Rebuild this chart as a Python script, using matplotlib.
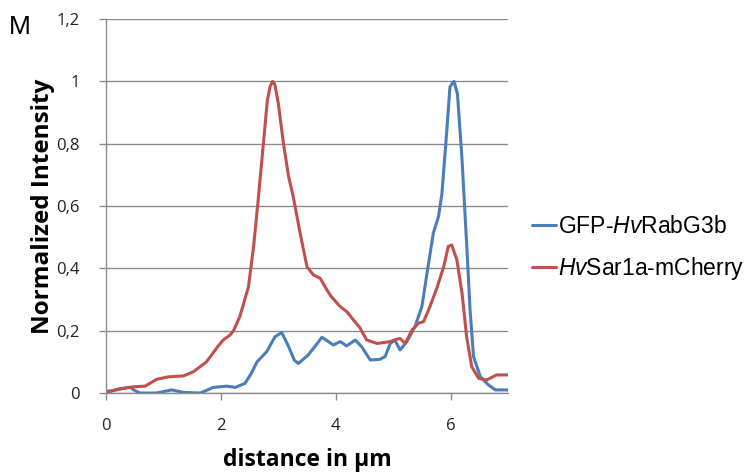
import matplotlib.pyplot as plt
import numpy as np

# distances (um) and normalized intensity
red_x = [0.0, 0.19, 0.48, 0.68, 0.88, 1.09, 1.35, 1.52, 1.75, 1.95, 2.04, 2.16, 2.22, 2.33,
         2.48, 2.57, 2.65, 2.74, 2.81, 2.86, 2.90, 2.94, 3.00, 3.09, 3.18, 3.26, 3.38, 3.50,
         3.61, 3.73, 3.85, 3.92, 4.08, 4.20, 4.31, 4.42, 4.54, 4.72, 4.95, 5.05, 5.12, 5.21,
         5.33, 5.44, 5.53, 5.64, 5.76, 5.88, 5.96, 6.02, 6.11, 6.20, 6.28, 6.37, 6.49, 6.63,
         6.80, 7.0]
red_y = [0.0, 0.012, 0.02, 0.022, 0.044, 0.052, 0.055, 0.068, 0.10, 0.15, 0.17, 0.186, 0.20, 0.245,
         0.34, 0.47, 0.62, 0.80, 0.94, 0.985, 1.0, 0.99, 0.93, 0.80, 0.694, 0.63, 0.513, 0.405,
         0.379, 0.368, 0.33, 0.31, 0.277, 0.26, 0.234, 0.21, 0.17, 0.159, 0.165, 0.172, 0.175, 0.159,
         0.202, 0.224, 0.229, 0.277, 0.336, 0.405, 0.47, 0.475, 0.427, 0.32, 0.18, 0.084, 0.047, 0.042,
         0.058, 0.058]

blue_x = [0.0, 0.19, 0.30, 0.42, 0.50, 0.59, 0.88, 1.14, 1.35, 1.64, 1.87, 2.10, 2.25, 2.42,
          2.52, 2.63, 2.80, 2.94, 3.06, 3.18, 3.28, 3.35, 3.52, 3.64, 3.76, 3.96, 4.08, 4.19,
          4.34, 4.45, 4.60, 4.77, 4.86, 4.95, 5.03, 5.12, 5.24, 5.38, 5.50, 5.59, 5.70, 5.79,
          5.85, 5.94, 5.99, 6.06, 6.12, 6.20, 6.28, 6.34, 6.40, 6.52, 6.66, 6.78, 7.0]
blue_y = [0.005, 0.01, 0.015, 0.018, 0.008, 0.0, 0.0, 0.01, 0.002, 0.0, 0.018, 0.022, 0.018, 0.031,
          0.06, 0.10, 0.133, 0.18, 0.194, 0.149, 0.105, 0.095, 0.122, 0.15, 0.179, 0.154, 0.165, 0.151,
          0.17, 0.149, 0.106, 0.108, 0.117, 0.159, 0.17, 0.138, 0.165, 0.213, 0.277, 0.384, 0.513, 0.566,
          0.64, 0.855, 0.983, 1.0, 0.96, 0.748, 0.48, 0.266, 0.117, 0.052, 0.026, 0.01, 0.01]

yticks = [0, 0.2, 0.4, 0.6, 0.8, 1.0, 1.2]
ytick_labels = ['0', '0,2', '0,4', '0,6', '0,8', '1', '1,2']
xticks = [0, 2, 4, 6]

plt.rcParams['font.family'] = ['Open Sans', 'DejaVu Sans']
plt.rcParams['mathtext.fontset'] = 'custom'
plt.rcParams['mathtext.it'] = 'Liberation Sans:italic'
plt.rcParams['mathtext.rm'] = 'Liberation Sans'

fig = plt.figure(figsize=(7.52, 4.75), dpi=100)
ax = fig.add_axes([0.141, 0.1726, 0.5345, 0.7874])

grey = '#8c8c8c'
ax.plot(blue_x, blue_y, color='#4a7ebb', lw=2.2, solid_joinstyle='round',
        solid_capstyle='round', label=r'GFP-$\mathit{Hv}$RabG3b')
ax.plot(red_x, red_y, color='#c0504d', lw=2.2, solid_joinstyle='round',
        solid_capstyle='round', label=r'$\mathit{Hv}$Sar1a-mCherry')

ax.set_xlim(0, 7)
ax.set_ylim(0, 1.2)
ax.set_yticks(yticks)
ax.set_yticklabels(ytick_labels)
ax.set_xticks(xticks)
ax.yaxis.grid(True, color=grey, lw=1.0)
ax.set_axisbelow(True)
for s in ['top', 'right']:
    ax.spines[s].set_visible(False)
for s in ['left', 'bottom']:
    ax.spines[s].set_color(grey)
    ax.spines[s].set_linewidth(1.0)
ax.tick_params(colors=grey, labelcolor='#222222', labelsize=12, length=5, width=1.0)
ax.tick_params(axis='x', pad=13)
ax.tick_params(axis='y', pad=14)

ax.set_ylabel('Normalized Intensity', fontsize=17.5, fontweight='bold', labelpad=1)
ax.set_xlabel('distance in µm', fontsize=16.5, fontweight='bold', labelpad=10)

leg = ax.legend(loc='center left', bbox_to_anchor=(1.008, 0.387), frameon=False,
                handlelength=1.05, handletextpad=0.1, labelspacing=0.72,
                prop={'family': 'Liberation Sans', 'size': 16.5})

fig.text(0.012, 0.968, 'M', fontsize=19, va='top', ha='left', family='Liberation Sans')

fig.savefig('out.png', dpi=100)
